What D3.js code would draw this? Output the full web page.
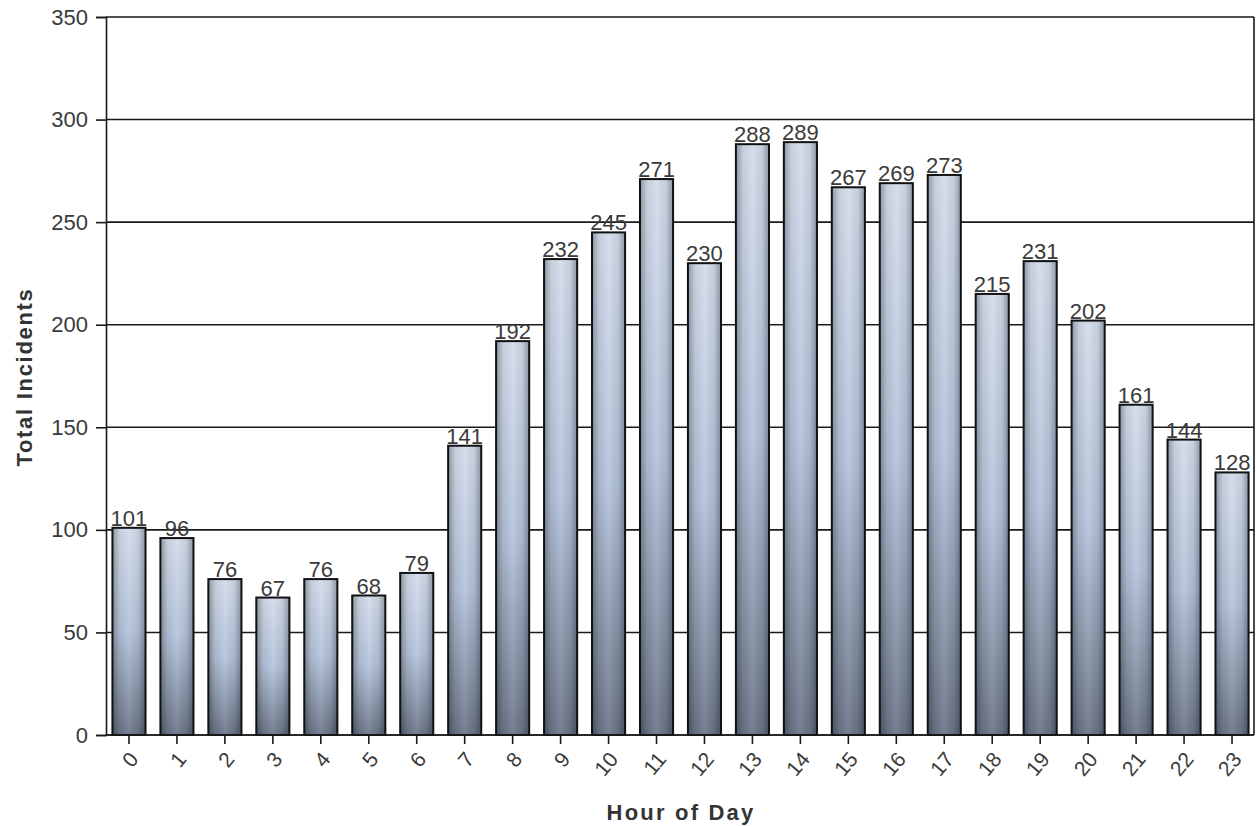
<!DOCTYPE html>
<html><head><meta charset="utf-8">
<script src="https://cdn.jsdelivr.net/npm/d3@7"></script>
<style>body{margin:0;background:#fff}svg{display:block;font-family:"Liberation Sans",Arial,sans-serif}</style>
</head><body><svg id="c" width="1256" height="827"></svg>
<script>
const hours = ["0","1","2","3","4","5","6","7","8","9","10","11","12","13","14","15","16","17","18","19","20","21","22","23"];
const incidents = [101,96,76,67,76,68,79,141,192,232,245,271,230,288,289,267,269,273,215,231,202,161,144,128];
const yTicks = [0,50,100,150,200,250,300,350];

const svg = d3.select("#c");
const L = 106, R = 1254, T = 17, B = 735;
const FF = "\"Liberation Sans\",Arial,sans-serif";
const x = d3.scaleBand().domain(hours).range([105, 1256]).paddingInner(0.31).paddingOuter(0.155);
const y = d3.scaleLinear().domain([0, 350]).range([B, T]);

const defs = svg.append("defs");
const gv = defs.append("linearGradient").attr("id","gv").attr("x1",0).attr("y1",0).attr("x2",0).attr("y2",1);
gv.append("stop").attr("offset","0%").attr("stop-color","#d3dceb");
gv.append("stop").attr("offset","50%").attr("stop-color","#b3c3da");
gv.append("stop").attr("offset","100%").attr("stop-color","#6b7588");
const gh = defs.append("linearGradient").attr("id","gh").attr("x1",0).attr("y1",0).attr("x2",1).attr("y2",0);
gh.append("stop").attr("offset","0%").attr("stop-color","#000").attr("stop-opacity",0.32);
gh.append("stop").attr("offset","22%").attr("stop-color","#000").attr("stop-opacity",0.06);
gh.append("stop").attr("offset","50%").attr("stop-color","#fff").attr("stop-opacity",0.08);
gh.append("stop").attr("offset","78%").attr("stop-color","#000").attr("stop-opacity",0.06);
gh.append("stop").attr("offset","100%").attr("stop-color","#000").attr("stop-opacity",0.32);

// gridlines
svg.append("g").selectAll("line").data(yTicks).join("line")
  .attr("x1", L).attr("x2", R).attr("y1", d => y(d)).attr("y2", d => y(d))
  .attr("stroke", "#1a1a1a").attr("stroke-width", 1.6);

// y axis
const ya = svg.append("g").attr("transform", `translate(${L},0)`)
  .call(d3.axisLeft(y).tickValues(yTicks).tickSize(10).tickPadding(8));
ya.select(".domain").attr("stroke","#1a1a1a").attr("stroke-width",1.6);
ya.selectAll(".tick line").attr("stroke","#1a1a1a").attr("stroke-width",1.6);
ya.selectAll("text").attr("font-size", 22).attr("fill", "#3a3a3a").attr("font-family",FF);

// right border
svg.append("line").attr("x1",R).attr("x2",R).attr("y1",T).attr("y2",B).attr("stroke","#1a1a1a").attr("stroke-width",1.6);

// bars
const bars = svg.append("g");
bars.selectAll("rect.b").data(incidents).join("rect").attr("class","b")
  .attr("x", (d,i) => x(hours[i])).attr("width", x.bandwidth())
  .attr("y", d => y(d)).attr("height", d => B - y(d))
  .attr("fill", "url(#gv)");
bars.selectAll("rect.o").data(incidents).join("rect").attr("class","o")
  .attr("x", (d,i) => x(hours[i])).attr("width", x.bandwidth())
  .attr("y", d => y(d)).attr("height", d => B - y(d))
  .attr("fill", "url(#gh)").attr("stroke", "#111").attr("stroke-width", 2);

// value labels
svg.append("g").selectAll("text").data(incidents).join("text")
  .attr("x", (d,i) => x(hours[i]) + x.bandwidth()/2).attr("y", d => y(d) - 2)
  .attr("text-anchor","middle").attr("font-size",22).attr("fill","#3a3a3a").attr("font-family",FF).text(d => d);

// x axis
const xa = svg.append("g").attr("transform", `translate(0,${B})`)
  .call(d3.axisBottom(x).tickSize(9).tickSizeOuter(0));
xa.select(".domain").attr("stroke","#1a1a1a").attr("stroke-width",1.6).attr("d", `M${L},0H${R}`);
xa.selectAll(".tick line").attr("stroke","#1a1a1a").attr("stroke-width",1.6);
xa.selectAll("text").attr("font-size",21).attr("fill","#3a3a3a").attr("font-family",FF)
  .attr("text-anchor","end").attr("dy","0.35em")
  .attr("transform","translate(5,20) rotate(-50)").attr("y",0).attr("x",0);

// titles
svg.append("text").attr("x", 681).attr("y", 820).attr("text-anchor","middle")
  .attr("font-size",22).attr("font-weight","bold").attr("fill","#333").attr("letter-spacing","2.2").attr("font-family",FF).text("Hour of Day");
svg.append("text").attr("transform", `translate(32,377) rotate(-90)`).attr("text-anchor","middle")
  .attr("font-size",22).attr("font-weight","bold").attr("fill","#333").attr("letter-spacing","1.7").attr("font-family",FF).text("Total Incidents");
</script></body></html>
